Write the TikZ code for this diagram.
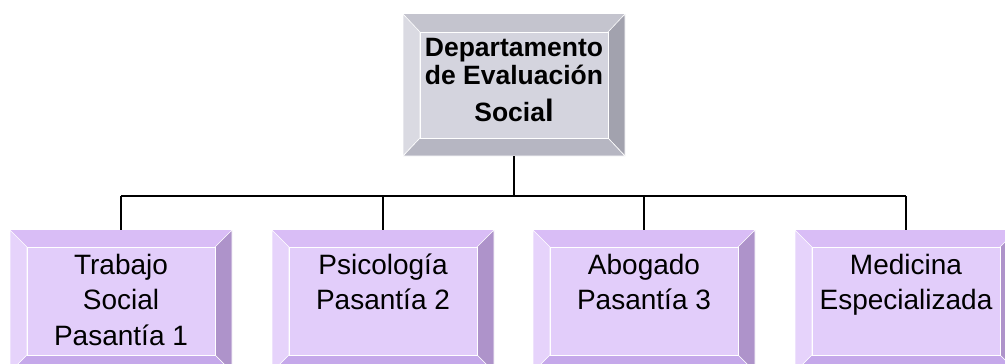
\documentclass[tikz,border=0pt]{standalone}
\usepackage{fontspec}
\setmainfont{Liberation Sans}
\usetikzlibrary{positioning}
\definecolor{grisFace}{HTML}{D4D4DE}
\definecolor{grisTop}{HTML}{C4C4CE}
\definecolor{grisLeft}{HTML}{DADAE2}
\definecolor{grisRight}{HTML}{A2A2AE}
\definecolor{grisBottom}{HTML}{B6B6C2}
\definecolor{lilaFace}{HTML}{E2CDFA}
\definecolor{lilaTop}{HTML}{D9BDF6}
\definecolor{lilaLeft}{HTML}{E6D3FB}
\definecolor{lilaRight}{HTML}{AE93CA}
\definecolor{lilaBottom}{HTML}{C5A8EA}

\begin{document}
\begin{tikzpicture}[x=1pt,y=-1pt,
  outerbox/.style={minimum width=222pt,minimum height=142pt,inner sep=0pt,outer sep=0pt},
  face/.style={minimum width=188pt,minimum height=108pt,inner sep=0pt,outer sep=0pt,draw=white,line width=1pt},
  bevel/.style={draw=white,line width=0.6pt},
  lbl/.style={inner sep=0pt,align=center,font=\fontsize{28}{35.5}\selectfont},
  jefe/.style={inner sep=0pt,align=center,font=\fontsize{26.5}{28.3}\selectfont\bfseries},
  enlace/.style={line width=1.3pt}]
\clip (0,0) rectangle (1005,364);
%
\node[outerbox,minimum height=142pt,fill=grisTop] (dept) at (514,85) {};
\fill[grisLeft,bevel] (dept.north west) -- ++(17,18) -- ++(0,106) -- (dept.south west) -- cycle;
\fill[grisRight,bevel] (dept.north east) -- ++(-17,18) -- ++(0,106) -- (dept.south east) -- cycle;
\fill[grisBottom,bevel] (dept.south west) -- ++(17,-18) -- ++(188,0) -- (dept.south east) -- cycle;
\node[face,minimum height=106pt,fill=grisFace] (dept f) at (514,85) {};
\node[jefe,below=5.7pt of dept f.north] (dept t) {Departamento\\de Evaluación\\[8.4pt]Socia{\fontsize{31}{31}\selectfont l}};
%
\foreach \n/\x/\t in {trab/121/{Trabajo\\Social\\Pasantía 1},psic/383/{Psicología\\Pasantía 2},abog/644/{Abogado\\Pasantía 3},medi/906/{Medicina\\Especializada}}{
  \node[outerbox,fill=lilaTop] (\n) at (\x,301) {};
  \fill[lilaLeft,bevel] (\n.north west) -- ++(17,17) -- ++(0,108) -- (\n.south west) -- cycle;
  \fill[lilaRight,bevel] (\n.north east) -- ++(-17,17) -- ++(0,108) -- (\n.south east) -- cycle;
  \fill[lilaBottom,bevel] (\n.south west) -- ++(17,-17) -- ++(188,0) -- (\n.south east) -- cycle;
  \node[face,fill=lilaFace] (\n f) at (\x,301) {};
  \node[lbl,below=6.6pt of \n f.north] (\n t) {\t};
}
%
\coordinate (bar) at (0,196);
\draw[enlace] (dept.south) -- (dept.south |- bar);
\draw[enlace] (trab.north |- bar) -- (medi.north |- bar);
\foreach \n in {trab,psic,abog,medi}
  \draw[enlace] (\n.north |- bar) -- (\n.north);
\end{tikzpicture}
\end{document}
